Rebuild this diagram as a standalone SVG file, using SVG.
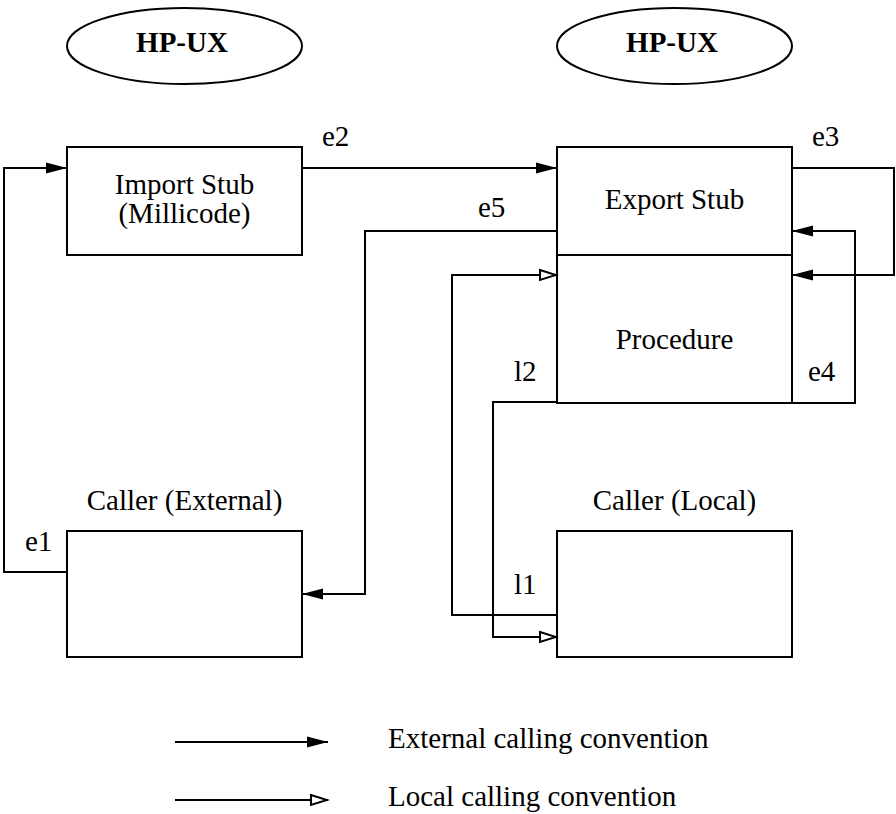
<svg xmlns="http://www.w3.org/2000/svg" width="896" height="814" viewBox="0 0 896 814">
<style>
  text { font-family: "Liberation Serif", "Times New Roman", serif; font-size: 29px; fill: #000; }
  .c { text-anchor: middle; }
  .b { font-weight: bold; }
  .box { fill: #fff; stroke: #000; stroke-width: 2; }
  .ell { fill: #fff; stroke: #000; stroke-width: 2; }
  .ext { fill: none; stroke: #000; stroke-width: 2; marker-end: url(#filled); }
  .loc { fill: none; stroke: #000; stroke-width: 2; marker-end: url(#open); }
</style>
<defs>
  <marker id="filled" markerUnits="userSpaceOnUse" markerWidth="23" markerHeight="14" refX="22" refY="7" orient="auto">
    <path d="M1,1.5 L22,7 L1,12.5 z" fill="#000"/>
  </marker>
  <marker id="open" markerUnits="userSpaceOnUse" markerWidth="22" markerHeight="14" refX="20" refY="7" orient="auto">
    <path d="M3,2 L19,7 L3,12 z" fill="#fff" stroke="#000" stroke-width="2"/>
  </marker>
</defs>
<rect width="896" height="814" fill="#fff"/>

<g id="os-left">
  <ellipse class="ell" cx="184.5" cy="46" rx="117.5" ry="38"/>
  <text class="c b" x="182" y="52">HP-UX</text>
</g>
<g id="os-right">
  <ellipse class="ell" cx="674.5" cy="46" rx="117.5" ry="38"/>
  <text class="c b" x="672" y="52">HP-UX</text>
</g>

<g id="import-stub">
  <rect class="box" x="67" y="147" width="235" height="108"/>
  <text class="c" x="184.5" y="194">Import Stub</text>
  <text class="c" x="184.5" y="223">(Millicode)</text>
</g>
<g id="export-stub">
  <rect class="box" x="557" y="147" width="235" height="108"/>
  <text class="c" x="674.5" y="209">Export Stub</text>
</g>
<g id="procedure">
  <rect class="box" x="557" y="255" width="235" height="148"/>
  <text class="c" x="674.5" y="349">Procedure</text>
</g>
<g id="caller-external">
  <text class="c" x="184.5" y="510">Caller (External)</text>
  <rect class="box" x="67" y="531" width="235" height="126"/>
</g>
<g id="caller-local">
  <text class="c" x="674.5" y="510">Caller (Local)</text>
  <rect class="box" x="557" y="531" width="235" height="126"/>
</g>

<g id="connectors">
  <polyline class="ext" points="67,572 4,572 4,168 67,168"/>
  <polyline class="ext" points="302,168 557,168"/>
  <polyline class="ext" points="792,168 894,168 894,275 792,275"/>
  <polyline class="ext" points="792,403 855,403 855,231 792,231"/>
  <polyline class="ext" points="557,231 365,231 365,594 302,594"/>
  <polyline class="loc" points="557,615 452,615 452,275 557,275"/>
  <polyline class="loc" points="557,402 493,402 493,637 557,637"/>
  <text x="25" y="551">e1</text>
  <text x="322" y="146">e2</text>
  <text x="812" y="146">e3</text>
  <text x="808" y="381">e4</text>
  <text x="478" y="217">e5</text>
  <text x="514" y="594">l1</text>
  <text x="514" y="381">l2</text>
</g>

<g id="legend">
  <line class="ext" x1="175" y1="742" x2="328" y2="742"/>
  <line class="loc" x1="175" y1="800" x2="328" y2="800"/>
  <text x="388" y="748">External calling convention</text>
  <text x="388" y="806">Local calling convention</text>
</g>
</svg>
